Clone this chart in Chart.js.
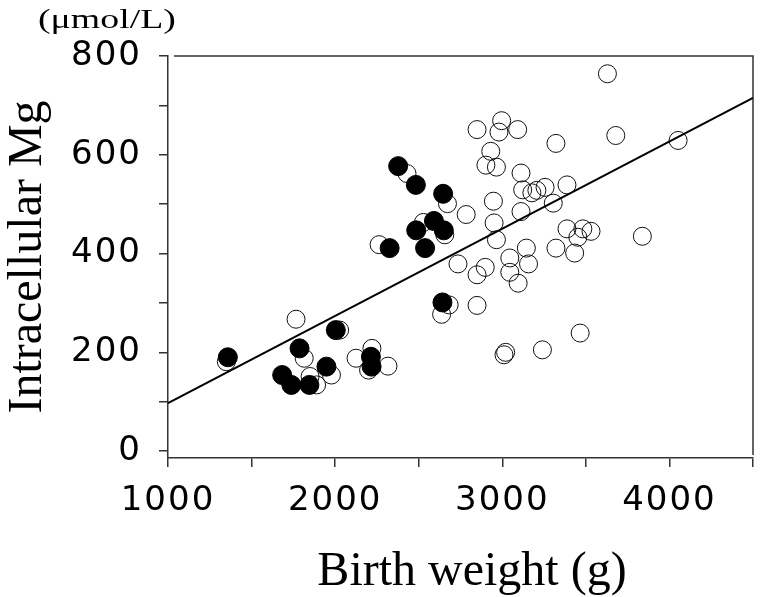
<!DOCTYPE html>
<html><head><meta charset="utf-8">
<script src="https://cdn.jsdelivr.net/npm/chart.js@4/dist/chart.umd.min.js"></script>
<style>html,body{margin:0;padding:0;background:#fff}#wrap{width:767px;height:597px}</style>
</head><body><div id="wrap"><canvas id="c" width="767" height="597"></canvas></div>
<script>
// ---- data ----
const filledBW = [1358,1683,1738,1787,1846,1948,2004,2214,2218,2326,2377,2483,2485,2538,2591,2646,2650,2642];
const filledMg = [190,154,134,208,134,171,245,191,171,411,577,539,447,411,466,521,447,301];

const openBW = [1349,1766,1815,1850,1889,1978,2027,2125,2220,2200,2316,2263,2430,2528,2672,2656,2682,2637,2735,
  3629,2849,2996,2980,3092,3321,3679,4052,2931,2902,2965,3112,3122,3177,3207,3256,3387,3305,2947,3112,2784,
  2951,2965,3387,3482,3531,3452,3838,3144,3321,3433,2898,2849,3045,3045,3157,3095,2849,3466,3020,3010,3240];
const openMg = [181,267,188,151,134,154,245,188,208,164,172,418,562,463,501,438,296,277,379,
  764,651,669,646,651,623,639,629,607,579,575,563,529,523,528,534,539,502,506,485,479,
  462,428,450,450,445,433,435,411,411,401,372,357,391,362,379,340,295,239,200,195,205];

const lineBW = [1000, 4500];
const lineMg = [97, 715];

const xTicks = [1000,1500,2000,2500,3000,3500,4000,4500];
const xLabelled = [1000,2000,3000,4000];
const yTicks = [0,100,200,300,400,500,600,700,800];
const yLabelled = [0,200,400,600,800];

const xTitle = 'Birth weight (g)';
const yTitle = 'Intracellular Mg';
const unitLabel = '(μmol/L)';

// ---- chart ----
const pts = (xs, ys) => xs.map((x, i) => ({x, y: ys[i]}));

const origDrawLabels = Chart.LinearScale.prototype.drawLabels;
Chart.LinearScale.prototype.drawLabels = function(area) {
  const ctx = this.ctx;
  ctx.save();
  ctx.letterSpacing = '2px';
  origDrawLabels.call(this, area);
  ctx.restore();
};

const framePlugin = {
  id: 'frame',
  beforeDatasetsDraw(chart) {
    const {ctx, chartArea: a} = chart;
    ctx.save();
    ctx.strokeStyle = '#333';
    ctx.lineWidth = 1.5;
    ctx.beginPath();
    ctx.moveTo(a.left + 6, a.top);
    ctx.lineTo(a.right, a.top);
    ctx.lineTo(a.right, a.bottom - 3);
    ctx.stroke();
    ctx.restore();
  },
  afterDraw(chart) {
    const ctx = chart.ctx;
    ctx.save();
    ctx.fillStyle = '#000';
    ctx.font = '28px "Liberation Serif"';
    ctx.textBaseline = 'middle';
    ctx.textAlign = 'left';
    ctx.translate(38, 21);
    ctx.scale(1.35, 1);
    ctx.fillText(unitLabel, 0, 0);
    ctx.restore();

    ctx.save();
    ctx.fillStyle = '#000';
    ctx.font = '48px "Liberation Serif"';
    ctx.textBaseline = 'alphabetic';
    ctx.textAlign = 'center';
    ctx.fillText(xTitle, 472, 585);
    ctx.restore();
  }
};

new Chart(document.getElementById('c'), {
  type: 'scatter',
  data: {
    datasets: [
      {
        label: 'open',
        data: pts(openBW, openMg),
        pointRadius: 9,
        pointBackgroundColor: 'rgba(0,0,0,0)',
        pointBorderColor: '#111',
        pointBorderWidth: 1,
        order: 3
      },
      {
        label: 'filled',
        data: pts(filledBW, filledMg),
        pointRadius: 9.5,
        pointBackgroundColor: '#000',
        pointBorderColor: '#000',
        pointBorderWidth: 1,
        order: 2
      },
      {
        type: 'line',
        label: 'regression',
        data: pts(lineBW, lineMg),
        borderColor: '#000',
        borderWidth: 2,
        pointRadius: 0,
        fill: false,
        order: 1
      }
    ]
  },
  options: {
    responsive: false,
    animation: false,
    devicePixelRatio: 1,
    layout: { padding: { top: 56, right: 6, left: 0, bottom: 0 } },
    plugins: { legend: { display: false }, tooltip: { enabled: false } },
    scales: {
      x: {
        type: 'linear',
        min: 1000, max: 4500,
        afterFit(s) { s.height = 139; },
        afterBuildTicks(s) { s.ticks = xTicks.map(v => ({value: v})); },
        grid: { drawOnChartArea: false, drawTicks: true, tickLength: 9, color: '#333', lineWidth: 1.5 },
        border: { display: true, color: '#333', width: 1.5 },
        ticks: {
          autoSkip: false, maxRotation: 0, padding: 14, color: '#000',
          font: { family: 'DejaVu Sans', size: 34 },
          callback: v => xLabelled.includes(v) ? String(v) : ''
        },
        title: { display: false }
      },
      y: {
        type: 'linear',
        min: -14, max: 800,
        afterFit(s) { s.width = 168; },
        afterBuildTicks(s) { s.ticks = yTicks.map(v => ({value: v})); },
        grid: { drawOnChartArea: false, drawTicks: true, tickLength: 9, color: '#333', lineWidth: 1.5 },
        border: { display: true, color: '#333', width: 1.5 },
        ticks: {
          autoSkip: false, padding: 17, color: '#000',
          font: { family: 'DejaVu Sans', size: 34 },
          callback: v => yLabelled.includes(v) ? String(v) : ''
        },
        title: { display: true, text: yTitle, color: '#000', font: { family: 'Liberation Serif', size: 48 }, padding: { top: 0, bottom: 0 } }
      }
    }
  },
  plugins: [framePlugin]
});
</script>
</body></html>
